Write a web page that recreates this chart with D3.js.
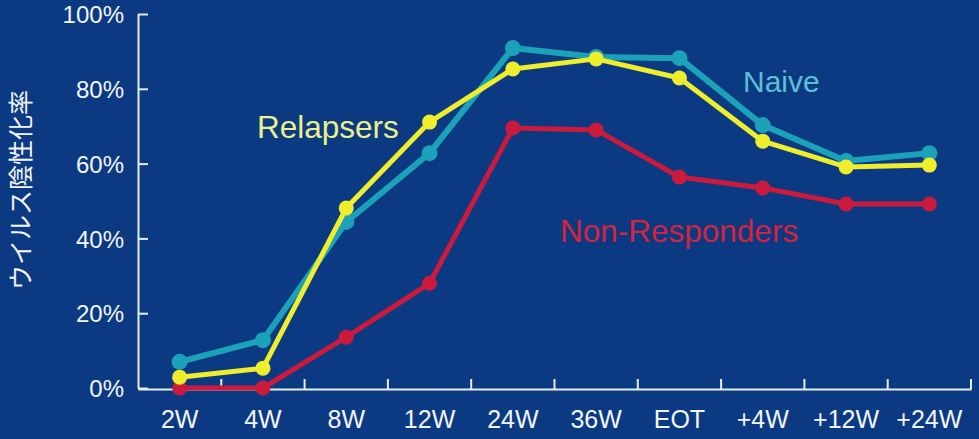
<!DOCTYPE html>
<html>
<head>
<meta charset="utf-8">
<script src="https://cdn.jsdelivr.net/npm/d3@7"></script>
<style>
  html, body { margin: 0; padding: 0; background: #0b3a82; }
  svg { display: block; font-family: "Liberation Sans", Arial, sans-serif; }
  .axis path, .axis line { stroke: #e6edf5; stroke-width: 2; }
  .axis text { fill: #f2f5fa; }
</style>
</head>
<body>
<div class="graph"></div>
<script>
var categories = ["2W", "4W", "8W", "12W", "24W", "36W", "EOT", "+4W", "+12W", "+24W"];
var yTicks = [0, 20, 40, 60, 80, 100];

var naive = [7, 12.8, 44.4, 62.8, 90.9, 88.5, 88.2, 70.3, 60.7, 62.8];
var relapsers = [2.9, 5.3, 48.1, 71.1, 85.3, 88, 82.9, 66, 59.1, 59.6];
var nonResponders = [0, 0, 13.6, 28, 69.5, 69, 56.4, 53.5, 49.2, 49.2];

var series = [
  {name: "Non-Responders", values: nonResponders, color: "#cb1a3c", label: "#d4233f", lx: 560, ly: 242, fs: 31.5, w: 5, r: 7.5},
  {name: "Naive", values: naive, color: "#1ba2b8", label: "#5cc0d8", lx: 743, ly: 92, fs: 30, w: 6, r: 8},
  {name: "Relapsers", values: relapsers, color: "#eeee2c", label: "#eaf08a", lx: 257, ly: 138, fs: 31.5, w: 5, r: 7.5}
];

var width = 979, height = 439;

var x = d3.scaleBand()
    .domain(categories)
    .range([138, 971])
    .padding(0);

var y = d3.scaleLinear()
    .domain([0, 100])
    .range([388, 14]);

var svg = d3.select(".graph").append("svg")
    .attr("width", width)
    .attr("height", height);

svg.append("rect")
    .attr("width", width)
    .attr("height", height)
    .attr("fill", "#0b3a82");

// y axis, ticks pointing inwards
var yAxis = d3.axisLeft(y)
    .tickValues(yTicks)
    .tickSizeInner(-10)
    .tickSizeOuter(0)
    .tickPadding(14)
    .tickFormat(function(d) { return d + "%"; });

svg.append("g")
    .attr("class", "y axis")
    .attr("transform", "translate(138,0)")
    .call(yAxis)
    .selectAll("text")
    .attr("font-size", 24)
    .attr("dy", "0.36em");

// x axis: labels at band centres, ticks at band edges
var xAxis = d3.axisBottom(x)
    .tickSize(0)
    .tickPadding(21);

var gx = svg.append("g")
    .attr("class", "x axis")
    .attr("transform", "translate(0,389)")
    .call(xAxis);

gx.selectAll("text")
    .attr("font-size", 25);

gx.selectAll(".edge")
    .data(categories)
  .enter().append("line")
    .attr("class", "edge")
    .attr("x1", function(d) { return x(d) + x.bandwidth(); })
    .attr("x2", function(d) { return x(d) + x.bandwidth(); })
    .attr("y1", 0)
    .attr("y2", -10);

svg.append("text")
    .attr("transform", "translate(30,190) rotate(-90)")
    .attr("text-anchor", "middle")
    .attr("font-family", "'Noto Sans CJK JP', sans-serif")
    .attr("font-size", 25)
    .attr("fill", "#f2f5fa")
    .text("ウイルス陰性化率");

var line = d3.line()
    .x(function(d, i) { return x(categories[i]) + x.bandwidth() / 2; })
    .y(function(d) { return y(d); });

series.forEach(function(s) {
  var g = svg.append("g").attr("class", "series");

  g.append("path")
    .datum(s.values)
    .attr("fill", "none")
    .attr("stroke", s.color)
    .attr("stroke-width", s.w)
    .attr("stroke-linejoin", "round")
    .attr("d", line);

  g.selectAll("circle")
    .data(s.values)
  .enter().append("circle")
    .attr("cx", function(d, i) { return x(categories[i]) + x.bandwidth() / 2; })
    .attr("cy", function(d) { return y(d); })
    .attr("r", s.r)
    .attr("fill", s.color);
});

svg.selectAll(".label")
    .data(series)
  .enter().append("text")
    .attr("class", "label")
    .attr("x", function(d) { return d.lx; })
    .attr("y", function(d) { return d.ly; })
    .attr("font-size", function(d) { return d.fs; })
    .attr("fill", function(d) { return d.label; })
    .text(function(d) { return d.name; });
</script>
</body>
</html>
